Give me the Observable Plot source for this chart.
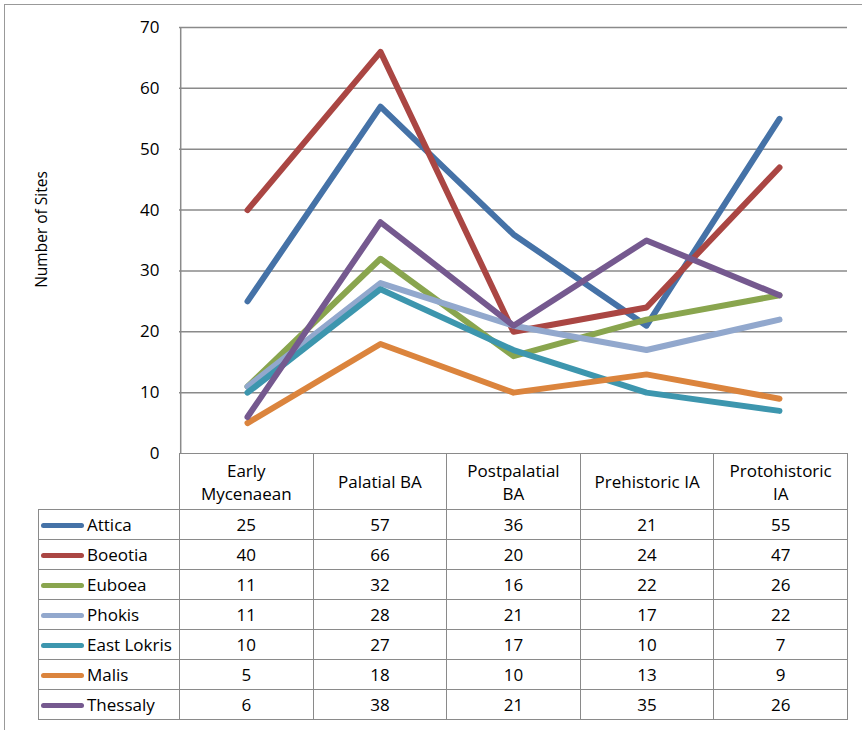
<!DOCTYPE html>
<html>
<head>
<meta charset="utf-8">
<script src="https://cdn.jsdelivr.net/npm/d3@7"></script>
<script src="https://cdn.jsdelivr.net/npm/@observablehq/plot@0.6"></script>
<style>
  html, body { margin: 0; padding: 0; background: #fff; }
  body { width: 862px; height: 730px; overflow: hidden; font-family: "Open Sans", sans-serif; }
  #wrap { position: relative; width: 862px; height: 730px; }
  #frame { position: absolute; left: 4px; top: 4px; width: 900px; height: 800px;
           border-top: 1.5px solid #999; border-left: 1.5px solid #999; }
  #chart { position: absolute; left: 0; top: 0; }
  table { position: absolute; left: 38px; top: 453px; border-collapse: collapse;
          font-family: "Open Sans", sans-serif; font-size: 17px; color: #000; table-layout: fixed; }
  td { border: 1px solid #8a8a8a; text-align: center; padding: 0; height: 29px; line-height: 1; }
  td.hdr { height: 55px; white-space: pre-line; line-height: 23px; }
  td.blank { border-top: none; border-left: none; border-bottom: 1px solid #8a8a8a; }
  td.name { text-align: left; white-space: nowrap; }
  .sw { display: inline-block; width: 43px; height: 5px; border-radius: 3px; vertical-align: middle;
        margin: 0 3px 0 2px; position: relative; top: -1px; }
</style>
</head>
<body>
<div id="wrap">
  <div id="frame"></div>
  <div id="chart"></div>
</div>
<script>
const categories = ["Early\nMycenaean", "Palatial BA", "Postpalatial\nBA", "Prehistoric IA", "Protohistoric\nIA"];
const regions = ["Attica", "Boeotia", "Euboea", "Phokis", "East Lokris", "Malis", "Thessaly"];
const colors = ["#4572A7", "#AA4643", "#89A54E", "#92A8CD", "#3D96AE", "#DB843D", "#75598F"];
const attica     = [25, 57, 36, 21, 55];
const boeotia    = [40, 66, 20, 24, 47];
const euboea     = [11, 32, 16, 22, 26];
const phokis     = [11, 28, 21, 17, 22];
const eastLokris = [10, 27, 17, 10, 7];
const malis      = [5, 18, 10, 13, 9];
const thessaly   = [6, 38, 21, 35, 26];
const yTicks = [0, 10, 20, 30, 40, 50, 60, 70];
const yLabel = "Number of Sites";

const series = [attica, boeotia, euboea, phokis, eastLokris, malis, thessaly];
const rows = [];
series.forEach((vals, i) => vals.forEach((v, j) => rows.push({region: regions[i], cat: categories[j], value: v})));

const chart = Plot.plot({
  width: 862,
  height: 480,
  marginTop: 27,
  marginBottom: 27,
  marginLeft: 179,
  marginRight: 15,
  style: {fontFamily: "'Open Sans', sans-serif", fontSize: "17px", color: "#000", background: "transparent"},
  x: {type: "point", domain: categories, padding: 0.5, axis: null},
  y: {domain: [0, 70], ticks: yTicks},
  color: {domain: regions, range: colors},
  marks: [
    Plot.ruleY(yTicks.filter(d => d > 0), {stroke: "#8a8a8a", strokeWidth: 1.5, strokeOpacity: 1}),
    Plot.ruleX([categories[0]], {dx: -66.8, stroke: "#8a8a8a", strokeWidth: 1.5}),
    Plot.axisY({ticks: yTicks, tickSize: 0, tickPadding: 20, label: null, fontSize: 17}),
    Plot.text([yLabel], {frameAnchor: "left", textAnchor: "middle", dx: -137, dy: -11, rotate: -90, fontSize: 15.5, fill: "#000"}),
    ...regions.map(r => Plot.line(rows.filter(d => d.region === r), {
      x: "cat", y: "value", stroke: "region", strokeWidth: 6,
      strokeLinecap: "round", strokeLinejoin: "round"
    }))
  ]
});
document.getElementById("chart").appendChild(chart);

// data table below the chart
const table = document.createElement("table");
const colgroup = document.createElement("colgroup");
[141, ...categories.map(() => 133.6)].forEach(w => {
  const c = document.createElement("col"); c.style.width = w + "px"; colgroup.appendChild(c);
});
table.appendChild(colgroup);
const head = document.createElement("tr");
const blank = document.createElement("td"); blank.className = "blank hdr"; head.appendChild(blank);
categories.forEach(c => { const td = document.createElement("td"); td.className = "hdr"; td.textContent = c; head.appendChild(td); });
table.appendChild(head);
regions.forEach((r, i) => {
  const tr = document.createElement("tr");
  const name = document.createElement("td"); name.className = "name";
  const sw = document.createElement("span"); sw.className = "sw"; sw.style.background = colors[i];
  name.appendChild(sw); name.appendChild(document.createTextNode(r));
  tr.appendChild(name);
  series[i].forEach(v => { const td = document.createElement("td"); td.textContent = v; tr.appendChild(td); });
  table.appendChild(tr);
});
document.getElementById("wrap").appendChild(table);
</script>
</body>
</html>
